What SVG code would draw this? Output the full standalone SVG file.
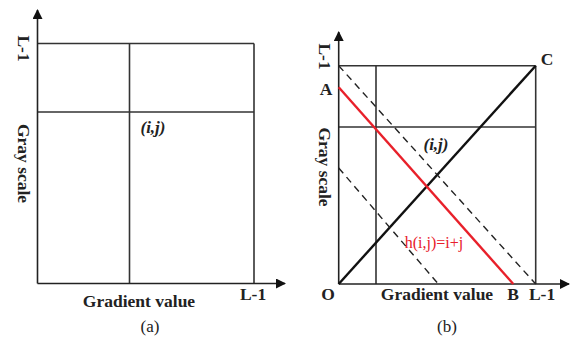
<svg xmlns="http://www.w3.org/2000/svg" width="571" height="339" viewBox="0 0 571 339">
<defs>
<style>
.ln{stroke:#333;stroke-width:1.6;fill:none}
.ax{stroke:#222;stroke-width:1.6;fill:none}
.dash{stroke:#222;stroke-width:1.4;stroke-dasharray:7,5;fill:none}
.t{font-family:"Liberation Serif","Times New Roman",serif;font-weight:bold;font-size:17.5px;fill:#222}
.ti{font-family:"Liberation Serif","Times New Roman",serif;font-weight:bold;font-style:italic;font-size:17px;fill:#222}
.cap{font-family:"Liberation Serif","Times New Roman",serif;font-size:17px;fill:#222}
.red{font-family:"Liberation Serif","Times New Roman",serif;font-size:16px;fill:#e8202a}
</style>
<marker id="arr" viewBox="0 0 10 10" refX="9" refY="5" markerWidth="10" markerHeight="10" markerUnits="userSpaceOnUse" orient="auto">
<path d="M0,0 L10,5 L0,10 z" fill="#111"/>
</marker>
</defs>
<rect width="571" height="339" fill="#fff"/>

<g id="panel-a">
<g id="a-grid">
<line class="ln" x1="37.5" y1="43.5" x2="254" y2="43.5"/>
<line class="ln" x1="37.5" y1="112" x2="254" y2="112"/>
<line class="ln" x1="129.5" y1="43.5" x2="129.5" y2="283.5"/>
<line class="ln" x1="254" y1="43.5" x2="254" y2="283.5"/>
</g>
<g id="a-axes">
<line class="ax" x1="37.5" y1="283.5" x2="37.5" y2="10" marker-end="url(#arr)"/>
<line class="ax" x1="37.5" y1="283.5" x2="285" y2="283.5" marker-end="url(#arr)"/>
</g>
<text class="t" transform="translate(18,48.5) rotate(90)" text-anchor="middle">L-1</text>
<text class="t" transform="translate(18,163.5) rotate(90)" text-anchor="middle">Gray scale</text>
<text class="ti" x="153" y="133" text-anchor="middle">(i,j)</text>
<text class="t" x="139" y="307" text-anchor="middle">Gradient value</text>
<text class="t" x="253" y="300" text-anchor="middle">L-1</text>
<text class="cap" x="150" y="332" text-anchor="middle">(a)</text>
</g>

<g id="panel-b">
<g id="b-grid">
<line class="ln" x1="338.7" y1="65.7" x2="535.7" y2="65.7"/>
<line class="ln" x1="338.7" y1="127" x2="535.7" y2="127"/>
<line class="ln" x1="376" y1="65.7" x2="376" y2="284"/>
<line class="ln" x1="535.7" y1="65.7" x2="535.7" y2="284"/>
</g>
<g id="b-axes">
<line class="ax" x1="338.7" y1="284" x2="338.7" y2="32" marker-end="url(#arr)"/>
<line class="ax" x1="338.7" y1="284" x2="569" y2="284" marker-end="url(#arr)"/>
</g>
<g id="connectors">
<line stroke="#111" stroke-width="2.4" x1="338.7" y1="284" x2="535.7" y2="65.7"/>
<line class="dash" x1="338.7" y1="65.7" x2="535.7" y2="284"/>
<line class="dash" x1="338.7" y1="168" x2="438.3" y2="284"/>
<line stroke="#e8202a" stroke-width="2.4" x1="338.7" y1="87.3" x2="513.3" y2="284"/>
</g>
<text class="t" transform="translate(319,56.5) rotate(90)" text-anchor="middle">L-1</text>
<text class="t" x="326" y="95" text-anchor="middle">A</text>
<text class="t" x="547" y="65" text-anchor="middle">C</text>
<text class="t" transform="translate(319,167) rotate(90)" text-anchor="middle">Gray scale</text>
<text class="ti" x="436" y="150" text-anchor="middle">(i,j)</text>
<text class="red" x="434" y="248" text-anchor="middle">h(i,j)=i+j</text>
<text class="t" x="328" y="300" text-anchor="middle">O</text>
<text class="t" x="437" y="300" text-anchor="middle">Gradient value</text>
<text class="t" x="513" y="300" text-anchor="middle">B</text>
<text class="t" x="542" y="300" text-anchor="middle">L-1</text>
<text class="cap" x="447" y="332" text-anchor="middle">(b)</text>
</g>
</svg>
